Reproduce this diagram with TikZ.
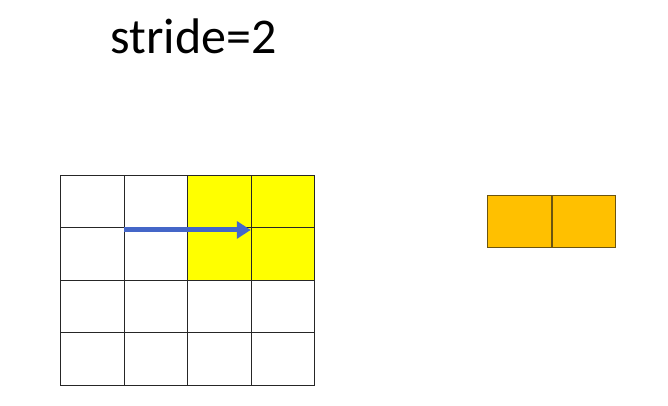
\documentclass[tikz,border=0pt]{standalone}
\usepackage{fontspec}
\setmainfont{Carlito}
\usetikzlibrary{arrows.meta}
\definecolor{gridyellow}{HTML}{FFFF00}
\definecolor{outorange}{HTML}{FFC000}
\definecolor{outedge}{HTML}{6B5410}
\definecolor{strideblue}{HTML}{4466C8}

\begin{document}
\begin{tikzpicture}[x=1pt, y=-1pt,
    cell/.style={draw=black!85, line width=0.9pt, minimum width=63.5pt, minimum height=52.5pt, inner sep=0pt},
    outcell/.style={draw=outedge, line width=0.9pt, fill=outorange, minimum width=63.8pt, minimum height=52pt, inner sep=0pt}]
        \useasboundingbox (0, 0) rectangle (668, 405);
        \node[anchor=base, font=\fontsize{50}{60}\selectfont] (title) at (193.5, 53) {stride=2};
        \foreach \r in {1,...,4} {
            \foreach \c in {1,...,4} {
                \node[cell] (c-\r-\c) at (60.7+63.5*\c-31.75, 175+52.5*\r-26.25) {};
            }
        }
        \foreach \r in {1,2} {
            \foreach \c in {3,4} {
                \node[cell, fill=gridyellow] at (c-\r-\c) {};
            }
        }
        \draw[strideblue, line width=5pt, -{Triangle[length=14pt, width=17pt]}] ([yshift=-2pt]c-1-2.south west) -- ([yshift=-2pt]c-1-4.south west);
        \node[outcell] (o-1) at (519.2, 221.7) {};
        \node[outcell, anchor=west] (o-2) at (o-1.east) {};
    \end{tikzpicture}
\end{document}
